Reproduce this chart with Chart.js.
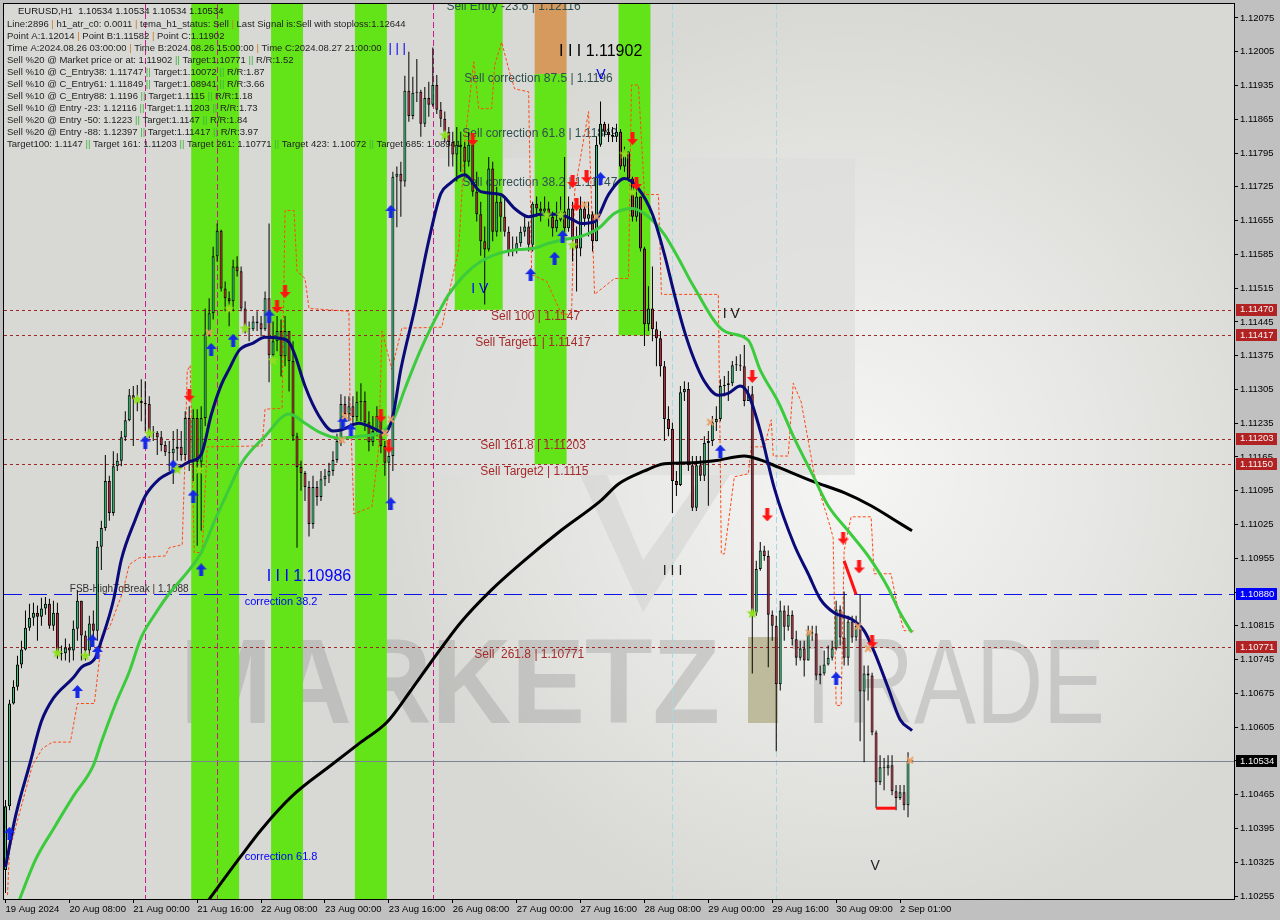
<!DOCTYPE html>
<html>
<head>
<meta charset="utf-8">
<script src="https://cdn.jsdelivr.net/npm/chart.js@4.4.1/dist/chart.umd.min.js"></script>
<style>
  html, body { margin: 0; padding: 0; background: #c0c0c0; }
  #chart { display: block; }
</style>
</head>
<body>
<canvas id="chart" width="1280" height="920"></canvas>
<script>
// EURUSD H1, 19 Aug 16:00 -> 2 Sep, one bar per hour
const firstOpen = 1.10309;

const closes = [
  1.10441, 1.10654, 1.10689, 1.10735, 1.10766, 1.10811, 1.10832, 1.10842, 1.10834, 1.10851,
  1.10861, 1.10815, 1.10842, 1.10756, 1.10758, 1.10770, 1.10764, 1.10809, 1.10867, 1.10795,
  1.10764, 1.10820, 1.10805, 1.10979, 1.11018, 1.11115, 1.11049, 1.11146, 1.11157, 1.11206,
  1.11241, 1.11293, 1.11285, 1.11281, 1.11277, 1.11275, 1.11217, 1.11215, 1.11206, 1.11190,
  1.11175, 1.11173, 1.11182, 1.11186, 1.11169, 1.11246, 1.11155, 1.11246, 1.11155, 1.11246,
  1.11421, 1.11463, 1.11581, 1.11634, 1.11514, 1.11494, 1.11488, 1.11560, 1.11550, 1.11473,
  1.11432, 1.11430, 1.11446, 1.11442, 1.11430, 1.11494, 1.11376, 1.11405, 1.11426, 1.11374,
  1.11426, 1.11364, 1.11208, 1.11144, 1.11132, 1.11103, 1.11026, 1.11103, 1.11082, 1.11119,
  1.11126, 1.11136, 1.11159, 1.11198, 1.11275, 1.11254, 1.11270, 1.11248, 1.11279, 1.11281,
  1.11237, 1.11196, 1.11219, 1.11250, 1.11188, 1.11153, 1.11167, 1.11746, 1.11752, 1.11736,
  1.11924, 1.11872, 1.11920, 1.11922, 1.11856, 1.11909, 1.11895, 1.11936, 1.11885, 1.11866,
  1.11839, 1.11818, 1.11792, 1.11812, 1.11808, 1.11777, 1.11812, 1.11715, 1.11668, 1.11612,
  1.11595, 1.11763, 1.11632, 1.11694, 1.11663, 1.11632, 1.11591, 1.11595, 1.11608, 1.11632,
  1.11643, 1.11605, 1.11690, 1.11680, 1.11674, 1.11680, 1.11663, 1.11639, 1.11657, 1.11674,
  1.11639, 1.11680, 1.11618, 1.11597, 1.11680, 1.11659, 1.11668, 1.11612, 1.11812, 1.11856,
  1.11839, 1.11833, 1.11829, 1.11839, 1.11767, 1.11798, 1.11742, 1.11663, 1.11705, 1.11597,
  1.11440, 1.11473, 1.11430, 1.11411, 1.11353, 1.11244, 1.11223, 1.11115, 1.11107, 1.11299,
  1.11306, 1.11148, 1.11060, 1.11148, 1.11126, 1.11194, 1.11198, 1.11237, 1.11244, 1.11312,
  1.11314, 1.11318, 1.11355, 1.11355, 1.11353, 1.11281, 1.11295, 1.10842, 1.10933, 1.10971,
  1.10960, 1.10838, 1.10815, 1.10694, 1.10847, 1.10813, 1.10838, 1.10787, 1.10749, 1.10768,
  1.10743, 1.10801, 1.10799, 1.10712, 1.10716, 1.10735, 1.10749, 1.10768, 1.10849, 1.10791,
  1.10749, 1.10824, 1.10791, 1.10815, 1.10679, 1.10716, 1.10712, 1.10594, 1.10491, 1.10522,
  1.10520, 1.10526, 1.10472, 1.10458, 1.10470, 1.10443, 1.10534, 1.10534
];

const highs = [
  1.10454, 1.10662, 1.10702, 1.10753, 1.10784, 1.10847, 1.10861, 1.10863, 1.10857, 1.10873,
  1.10875, 1.10871, 1.10867, 1.10863, 1.10774, 1.10789, 1.10778, 1.10826, 1.10888, 1.10867,
  1.10805, 1.10836, 1.10847, 1.10991, 1.11033, 1.11169, 1.11126, 1.11177, 1.11173, 1.11219,
  1.11260, 1.11306, 1.11312, 1.11314, 1.11326, 1.11322, 1.11291, 1.11229, 1.11219, 1.11219,
  1.11198, 1.11198, 1.11219, 1.11223, 1.11219, 1.11260, 1.11270, 1.11264, 1.11264, 1.11270,
  1.11473, 1.11494, 1.11601, 1.11649, 1.11636, 1.11529, 1.11508, 1.11574, 1.11581, 1.11560,
  1.11488, 1.11446, 1.11457, 1.11467, 1.11457, 1.11508, 1.11649, 1.11446, 1.11457, 1.11450,
  1.11457, 1.11426, 1.11405, 1.11215, 1.11157, 1.11136, 1.11115, 1.11126, 1.11115, 1.11136,
  1.11140, 1.11153, 1.11177, 1.11213, 1.11295, 1.11291, 1.11291, 1.11291, 1.11301, 1.11318,
  1.11301, 1.11260, 1.11250, 1.11270, 1.11260, 1.11198, 1.11188, 1.11756, 1.11767, 1.11777,
  1.11955, 1.12005, 1.11953, 1.11990, 1.11926, 1.11932, 1.11943, 1.12014, 1.11957, 1.11901,
  1.11881, 1.11849, 1.11839, 1.11849, 1.11839, 1.11818, 1.11839, 1.11812, 1.11756, 1.11694,
  1.11643, 1.11787, 1.11777, 1.11725, 1.11705, 1.11705, 1.11643, 1.11622, 1.11622, 1.11643,
  1.11663, 1.11653, 1.11694, 1.11705, 1.11694, 1.11705, 1.11694, 1.11674, 1.11694, 1.11705,
  1.11787, 1.11705, 1.11694, 1.11643, 1.11705, 1.11694, 1.11694, 1.11674, 1.11829, 1.11902,
  1.11860, 1.11856, 1.11849, 1.11856, 1.11845, 1.11808, 1.11798, 1.11746, 1.11725, 1.11705,
  1.11601, 1.11519, 1.11560, 1.11446, 1.11426, 1.11364, 1.11270, 1.11236, 1.11136, 1.11312,
  1.11322, 1.11320, 1.11167, 1.11167, 1.11167, 1.11208, 1.11219, 1.11250, 1.11270, 1.11326,
  1.11333, 1.11343, 1.11364, 1.11374, 1.11378, 1.11397, 1.11312, 1.11312, 1.10950, 1.10989,
  1.10981, 1.10971, 1.10847, 1.10836, 1.10867, 1.10857, 1.10857, 1.10847, 1.10805, 1.10784,
  1.10784, 1.10815, 1.10815, 1.10815, 1.10733, 1.10764, 1.10774, 1.10784, 1.10867, 1.10857,
  1.10886, 1.10836, 1.10836, 1.10836, 1.10880, 1.10733, 1.10733, 1.10718, 1.10598, 1.10547,
  1.10541, 1.10547, 1.10547, 1.10485, 1.10485, 1.10485, 1.10553, 1.10534
];

const lows = [
  1.10261, 1.10433, 1.10652, 1.10681, 1.10727, 1.10764, 1.10805, 1.10815, 1.10784, 1.10815,
  1.10838, 1.10809, 1.10805, 1.10747, 1.10743, 1.10743, 1.10739, 1.10743, 1.10784, 1.10743,
  1.10743, 1.10753, 1.10774, 1.10784, 1.10931, 1.11012, 1.11033, 1.11043, 1.11136, 1.11146,
  1.11198, 1.11239, 1.11188, 1.11260, 1.11239, 1.11219, 1.11204, 1.11198, 1.11169, 1.11177,
  1.11167, 1.11136, 1.11109, 1.11157, 1.11157, 1.11157, 1.11136, 1.11115, 1.10981, 1.11012,
  1.11229, 1.11415, 1.11450, 1.11570, 1.11508, 1.11467, 1.11436, 1.11467, 1.11539, 1.11467,
  1.11421, 1.11405, 1.11426, 1.11426, 1.11415, 1.11426, 1.11320, 1.11364, 1.11384, 1.11332,
  1.11353, 1.11301, 1.11198, 1.10977, 1.11095, 1.11074, 1.11000, 1.11016, 1.11064, 1.11074,
  1.11105, 1.11111, 1.11126, 1.11153, 1.11188, 1.11239, 1.11239, 1.11229, 1.11239, 1.11239,
  1.11219, 1.11177, 1.11188, 1.11208, 1.11173, 1.11126, 1.11055, 1.11136, 1.11641, 1.11663,
  1.11725, 1.11860, 1.11865, 1.11901, 1.11829, 1.11849, 1.11870, 1.11891, 1.11876, 1.11849,
  1.11818, 1.11767, 1.11767, 1.11736, 1.11756, 1.11746, 1.11767, 1.11705, 1.11653, 1.11582,
  1.11481, 1.11591, 1.11612, 1.11622, 1.11632, 1.11622, 1.11581, 1.11581, 1.11587, 1.11601,
  1.11622, 1.11591, 1.11591, 1.11663, 1.11653, 1.11663, 1.11643, 1.11622, 1.11632, 1.11653,
  1.11632, 1.11632, 1.11570, 1.11508, 1.11581, 1.11643, 1.11622, 1.11591, 1.11612, 1.11808,
  1.11829, 1.11818, 1.11818, 1.11818, 1.11761, 1.11756, 1.11736, 1.11653, 1.11653, 1.11591,
  1.11395, 1.11426, 1.11405, 1.11353, 1.11332, 1.11198, 1.11208, 1.11049, 1.11084, 1.11105,
  1.11281, 1.11136, 1.11053, 1.11053, 1.11115, 1.11115, 1.11064, 1.11188, 1.11219, 1.11239,
  1.11291, 1.11281, 1.11312, 1.11343, 1.11343, 1.11270, 1.11281, 1.10716, 1.10836, 1.10929,
  1.10950, 1.10729, 1.10784, 1.10555, 1.10681, 1.10784, 1.10805, 1.10774, 1.10733, 1.10743,
  1.10710, 1.10743, 1.10784, 1.10702, 1.10694, 1.10712, 1.10733, 1.10743, 1.10764, 1.10774,
  1.10733, 1.10733, 1.10780, 1.10784, 1.10576, 1.10532, 1.10660, 1.10588, 1.10437, 1.10485,
  1.10474, 1.10505, 1.10464, 1.10433, 1.10454, 1.10433, 1.10418, 1.10534
];

// moving averages: [bar, price]
const navyMA = [
  [0,1.10315],[2.5,1.10420],[6,1.10526],[9,1.10617],[12,1.10665],[17,1.10708],[19,1.10729],
  [22.5,1.10749],[24,1.10784],[27,1.10867],[29,1.10952],[32.5,1.11035],[35,1.11084],[38.5,1.11119],
  [42,1.11136],[46,1.11155],[49,1.11170],[51.5,1.11252],[54,1.11314],[56,1.11347],[58.5,1.11386],
  [62,1.11401],[65,1.11413],[68.5,1.11411],[71,1.11403],[72.5,1.11376],[75,1.11312],[78.5,1.11250],
  [82,1.11219],[84,1.11221],[88.5,1.11235],[92,1.11225],[95,1.11215],[97,1.11250],[99,1.11347],
  [102.5,1.11473],[106,1.11614],[109,1.11711],[111,1.11730],[115,1.11750],[119,1.11715],[124,1.11709],
  [127.5,1.11680],[131,1.11663],[134,1.11668],[138.5,1.11668],[142,1.11657],[144,1.11649],
  [147.5,1.11653],[151,1.11709],[155,1.11742],[158.5,1.11721],[162,1.11668],[165,1.11585],
  [167.5,1.11502],[170,1.11426],[172.5,1.11366],[175,1.11322],[178.5,1.11293],[181,1.11297],
  [184,1.11312],[186,1.11295],[189,1.11219],[192.5,1.11101],[197.5,1.10983],[201,1.10923],
  [204,1.10871],[207.5,1.10842],[212,1.10828],[215,1.10805],[217.5,1.10762],[221,1.10687],
  [224,1.10621],[227,1.10598]
];
const greenMA = [
  [3,1.10237],[7.5,1.10330],[12,1.10394],[17,1.10462],[22,1.10526],[24,1.10574],[27.5,1.10652],
  [31,1.10720],[34,1.10791],[37.5,1.10840],[41,1.10882],[46,1.10931],[49,1.10967],[52.5,1.11035],
  [56,1.11099],[59,1.11151],[65,1.11208],[71,1.11254],[75,1.11235],[79,1.11215],[83.5,1.11204],
  [88.5,1.11208],[93.5,1.11215],[97,1.11241],[100,1.11306],[104,1.11388],[109,1.11473],
  [111,1.11502],[115,1.11543],[119,1.11570],[123.5,1.11587],[128.5,1.11595],[132,1.11597],
  [136,1.11608],[140,1.11616],[144,1.11622],[148.5,1.11639],[152.5,1.11670],[157,1.11680],
  [161,1.11663],[165,1.11626],[168.5,1.11577],[172,1.11523],[180,1.11426],[186,1.11407],
  [189,1.11345],[193.5,1.11279],[197.5,1.11204],[202,1.11130],[206,1.11064],[211,1.11012],
  [216,1.10960],[221,1.10894],[224,1.10842],[227,1.10801]
];
const blackMA = [
  [50,1.10237],[59,1.10338],[64,1.10392],[72,1.10464],[81.5,1.10526],[89,1.10574],[95.5,1.10615],
  [101.5,1.10681],[106.5,1.10739],[114,1.10822],[121.5,1.10888],[129,1.10944],[139,1.11012],
  [149,1.11074],[153.5,1.11109],[160,1.11136],[165,1.11151],[172,1.11153],[177.5,1.11157],
  [185,1.11167],[189,1.11159],[193.5,1.11144],[202,1.11115],[210,1.11091],[216.75,1.11064],
  [222.5,1.11035],[227,1.11012]
];
// thin dashed trailing stop
const stopLine = [
  [0.5,1.10257],[1,1.10350],[4.25,1.10450],[6.75,1.10526],[9.25,1.10561],[11.75,1.10574],
  [16.25,1.10574],[18,1.10654],[22.25,1.10654],[24.25,1.10799],[26,1.10811],[29.25,1.10882],
  [31,1.10942],[33.5,1.10956],[40,1.10960],[41,1.10977],[44.25,1.10983],[45,1.11177],
  [45.5,1.11343],[46.25,1.11355],[47.25,1.10967],[49.25,1.10967],[50.5,1.11186],[64.25,1.11188],
  [65,1.11264],[69.25,1.11266],[70,1.11676],[72.25,1.11676],[73,1.11550],[75,1.11535],
  [76,1.11473],[86,1.11467],[86.25,1.11285],[87.25,1.11047],[91.75,1.11062],[93.5,1.11188],
  [94.25,1.11426],[96.75,1.11347],[99.25,1.11432],[109.25,1.11434],[111,1.11502],[113.5,1.11597],
  [115,1.11818],[117.25,1.11984],[118.5,1.11887],[121.75,1.11887],[122.5,1.11978],[124.25,1.12025],
  [126,1.11969],[127.5,1.11928],[131,1.11922],[131.75,1.11543],[135.5,1.11529],[139.25,1.11461],
  [141.75,1.11461],[142.5,1.11715],[146,1.11881],[147.5,1.11502],[152.5,1.11535],[156,1.11535],
  [156.75,1.11936],[158.5,1.11936],[160,1.11709],[163.5,1.11709],[164.25,1.11502],[178.5,1.11502],
  [179.25,1.10964],[180,1.10964],[182.5,1.11124],[186,1.11130],[186.75,1.11186],[190,1.11186],
  [191.75,1.11242],[192.25,1.11167],[196,1.11167],[197.25,1.11318],[199.25,1.11279],[202.5,1.11130],
  [206,1.11035],[207.25,1.10998],[208,1.10650],[209.25,1.10650],[210,1.10971],[211.75,1.11041],
  [216.75,1.11041],[217.5,1.10923],[221.75,1.10923],[223.5,1.10849],[225,1.10805],[227.5,1.10805]
];

// signal markers: [bar, price]
const buyArrows = [
  [1,1.10385],[18,1.10679],[21.75,1.10784],[23,1.10760],[35,1.11196],[42,1.11146],[47,1.11084],
  [49,1.10931],[51.5,1.11388],[57,1.11407],[66,1.11457],[84.5,1.11237],[86.5,1.11221],
  [96.5,1.11674],[96.5,1.11068],[131.5,1.11543],[137.5,1.11577],[139.5,1.11622],[149,1.11742],
  [179,1.11177],[208,1.10706]
];
const sellArrows = [
  [46,1.11293],[70,1.11508],[68,1.11477],[94,1.11250],[96,1.11186],[117,1.11823],[142,1.11736],
  [145.5,1.11746],[143,1.11688],[157,1.11825],[158,1.11732],[187,1.11332],[190.75,1.11045],
  [209.75,1.10997],[213.75,1.10937],[217,1.10782]
];
const stars = [
  [33,1.11285],[36,1.11215],[13,1.10760],[20,1.10754],[43,1.11140],[48.5,1.11140],[56,1.11473],
  [60,1.11432],[67,1.11366],[110,1.11833],[135.5,1.11668],[139,1.11668],[142,1.11605],
  [155,1.11794],[157,1.11715],[187,1.10842]
];
const crossMarks = [
  [51,1.11423],[85,1.11250],[84.25,1.11200],[96.5,1.11243],[95,1.11215],[145,1.11688],
  [148,1.11663],[176.5,1.11237],[201.25,1.10801],[213.5,1.10814],[216,1.10768],[226.5,1.10536]
];
const redStroke1 = [[210,1.10950],[213,1.10880]];
const redStroke2 = [[218,1.10437],[223,1.10437]];

// levels
const redLevels = [1.11470, 1.11417, 1.11203, 1.11150, 1.10771];
const blueLevel = 1.10880;
const lastPrice = 1.10534;

// zones: [first bar, last bar, top price or null, bottom price or null]
const greenZones = [
  [47, 58, null, null], [67, 74, null, null], [88, 95, null, null],
  [113, 124, null, 1.11470], [133, 140, 1.11959, 1.11150], [154, 161, null, 1.11417]
];
const orangeZone = [133, 140, null, 1.11959];
const magentaBars = [35, 53, 107];
const cyanBars = [167, 193];

const timeTickIdx = [0, 16, 32, 48, 64, 80, 96, 112, 128, 144, 160, 176, 192, 208, 224];
const timeLabels = ['19 Aug 2024', '20 Aug 08:00', '21 Aug 00:00', '21 Aug 16:00', '22 Aug 08:00',
  '23 Aug 00:00', '23 Aug 16:00', '26 Aug 08:00', '27 Aug 00:00', '27 Aug 16:00', '28 Aug 08:00',
  '29 Aug 00:00', '29 Aug 16:00', '30 Aug 09:00', '2 Sep 01:00'];
const priceTicks = [1.12075, 1.12005, 1.11935, 1.11865, 1.11795, 1.11725, 1.11655, 1.11585, 1.11515,
  1.11445, 1.11375, 1.11305, 1.11235, 1.11165, 1.11095, 1.11025, 1.10955, 1.10885, 1.10815, 1.10745,
  1.10675, 1.10605, 1.10535, 1.10465, 1.10395, 1.10325, 1.10255];

const infoHeader = 'EURUSD,H1  1.10534 1.10534 1.10534 1.10534';
const infoLines = [
  'Line:2896 | h1_atr_c0: 0.0011 | tema_h1_status: Sell | Last Signal is:Sell with stoploss:1.12644',
  'Point A:1.12014 | Point B:1.11582 | Point C:1.11902',
  'Time A:2024.08.26 03:00:00 | Time B:2024.08.26 15:00:00 | Time C:2024.08.27 21:00:00',
  'Sell %20 @ Market price or at: 1.11902 || Target:1.10771 || R/R:1.52',
  'Sell %10 @ C_Entry38: 1.11747 || Target:1.10072 || R/R:1.87',
  'Sell %10 @ C_Entry61: 1.11849 || Target:1.08941 || R/R:3.66',
  'Sell %10 @ C_Entry88: 1.1196 || Target:1.1115 || R/R:1.18',
  'Sell %10 @ Entry -23: 1.12116 || Target:1.11203 || R/R:1.73',
  'Sell %20 @ Entry -50: 1.1223 || Target:1.1147 || R/R:1.84',
  'Sell %20 @ Entry -88: 1.12397 || Target:1.11417 || R/R:3.97',
  'Target100: 1.1147 || Target 161: 1.11203 || Target 261: 1.10771 || Target 423: 1.10072 || Target 685: 1.08941'
];

const FONT = '"Liberation Sans", Arial, sans-serif';
const BULL = '#2ecc7a';
const BEAR = '#c8283c';

const opens = closes.map((c, i) => i === 0 ? firstOpen : closes[i - 1]);
const wickData = closes.map((c, i) => ({ x: i, y: [lows[i], highs[i]] }));
const bodyData = closes.map((c, i) => ({ x: i, y: [opens[i], c] }));
const bodyColors = closes.map((c, i) => c >= opens[i] ? BULL : BEAR);
const pts = arr => arr.map(p => ({ x: p[0], y: p[1] }));

// marker images
function arrowImage(color, up) {
  const c = document.createElement('canvas');
  c.width = 11; c.height = 13;
  const g = c.getContext('2d');
  g.fillStyle = color;
  g.beginPath();
  const shape = [[5.5, 0], [11, 6], [7.5, 6], [7.5, 13], [3.5, 13], [3.5, 6], [0, 6]];
  shape.forEach(([x, y], k) => {
    const yy = up ? y : 13 - y;
    if (k === 0) g.moveTo(x, yy); else g.lineTo(x, yy);
  });
  g.closePath();
  g.fill();
  return c;
}
function starImage(color) {
  const c = document.createElement('canvas');
  c.width = 12; c.height = 12;
  const g = c.getContext('2d');
  g.fillStyle = color;
  g.beginPath();
  for (let k = 0; k < 10; k++) {
    const r = k % 2 === 0 ? 6 : 2.5;
    const a = -Math.PI / 2 + k * Math.PI / 5;
    const x = 6 + r * Math.cos(a), y = 6.5 + r * Math.sin(a);
    if (k === 0) g.moveTo(x, y); else g.lineTo(x, y);
  }
  g.closePath();
  g.fill();
  return c;
}
function crossImage(color) {
  const c = document.createElement('canvas');
  c.width = 8; c.height = 8;
  const g = c.getContext('2d');
  g.strokeStyle = color;
  g.lineWidth = 2;
  g.beginPath();
  g.moveTo(1, 1); g.lineTo(7, 7); g.moveTo(7, 1); g.lineTo(1, 7);
  g.stroke();
  return c;
}
const upImg = arrowImage('#1428e6', true);
const downImg = arrowImage('#ff1414', false);
const starImg = starImage('#8ee01e');
const crossImg = crossImage('#e8a064');

const X_MIN = -0.375, X_MAX = 307.625;
const Y_MIN = 1.102488, Y_MAX = 1.1210396;

const chartDecor = {
  id: 'chartDecor',
  beforeDraw(chart) {
    const { ctx, chartArea: a } = chart;
    ctx.save();
    ctx.fillStyle = '#c0c0c0';
    ctx.fillRect(0, 0, chart.width, chart.height);
    ctx.fillStyle = '#d8d8d4';
    ctx.fillRect(a.left, a.top, a.right - a.left, a.bottom - a.top);
    ctx.restore();
  },
  beforeDatasetsDraw(chart) {
    const { ctx, chartArea: a, scales: { x, y } } = chart;
    ctx.save();
    ctx.beginPath();
    ctx.rect(a.left, a.top, a.right - a.left, a.bottom - a.top);
    ctx.clip();

    // faint logo glow behind everything
    const glow = ctx.createRadialGradient(850, 470, 10, 850, 470, 470);
    glow.addColorStop(0, 'rgba(255,255,255,0.75)');
    glow.addColorStop(0.5, 'rgba(255,255,255,0.4)');
    glow.addColorStop(1, 'rgba(255,255,255,0)');
    ctx.fillStyle = glow;
    ctx.fillRect(a.left, a.top, a.right - a.left, a.bottom - a.top);
    ctx.fillStyle = 'rgba(222,222,220,0.75)';
    ctx.fillRect(435, 158, 420, 317);
    ctx.fillStyle = 'rgba(205,205,205,0.45)';
    ctx.beginPath();
    ctx.moveTo(580, 475); ctx.lineTo(607, 475); ctx.lineTo(643, 560);
    ctx.lineTo(703, 475); ctx.lineTo(730, 475); ctx.lineTo(643, 612);
    ctx.closePath(); ctx.fill();

    // watermark
    ctx.fillStyle = 'rgba(140,140,140,0.32)';
    ctx.font = 'bold 120px ' + FONT;
    ctx.textBaseline = 'alphabetic';
    let w = ctx.measureText('MARKETZ').width;
    ctx.save(); ctx.translate(180, 723); ctx.scale(540 / w, 1); ctx.fillText('MARKETZ', 0, 0); ctx.restore();
    ctx.font = '120px ' + FONT;
    w = ctx.measureText('TRADE').width;
    ctx.save(); ctx.translate(790, 723); ctx.scale(315 / w, 1); ctx.fillText('TRADE', 0, 0); ctx.restore();
    ctx.fillStyle = '#bdbb9c';
    ctx.fillRect(748, 637, 30, 86);

    // zones
    const zone = (z, color) => {
      const x0 = x.getPixelForValue(z[0] - 0.5), x1 = x.getPixelForValue(z[1] + 0.5);
      const y0 = z[2] === null ? a.top : y.getPixelForValue(z[2]);
      const y1 = z[3] === null ? a.bottom : y.getPixelForValue(z[3]);
      ctx.fillStyle = color;
      ctx.fillRect(x0, y0, x1 - x0, y1 - y0);
    };
    greenZones.forEach(z => zone(z, '#63e419'));
    zone(orangeZone, '#d69a5e');

    // vertical separators
    ctx.lineWidth = 1;
    ctx.setLineDash([6, 3]);
    const vline = (v, color) => {
      const px = Math.round(x.getPixelForValue(v)) + 0.5;
      ctx.strokeStyle = color;
      ctx.beginPath(); ctx.moveTo(px, a.top); ctx.lineTo(px, a.bottom); ctx.stroke();
    };
    magentaBars.forEach(v => vline(v, '#c81e8c'));
    cyanBars.forEach(v => vline(v, '#a8d8e2'));

    // horizontal levels
    const hline = (p, color, dash) => {
      const py = Math.round(y.getPixelForValue(p)) + 0.5;
      ctx.setLineDash(dash);
      ctx.strokeStyle = color;
      ctx.beginPath(); ctx.moveTo(a.left, py); ctx.lineTo(a.right, py); ctx.stroke();
    };
    redLevels.forEach(p => hline(p, '#a02828', [3, 3]));
    hline(blueLevel, '#0a14e6', [18, 7]);
    hline(lastPrice, '#7c8490', []);
    ctx.setLineDash([]);

    // info block
    ctx.font = '9.5px ' + FONT;
    ctx.textBaseline = 'middle';
    ctx.fillStyle = '#141414';
    ctx.fillText(infoHeader, 18, 11);
    infoLines.forEach((line, k) => {
      let cx = 7;
      const cy = 24 + 12 * k;
      line.split(/(\|+)/).forEach(part => {
        if (part.startsWith('|')) ctx.fillStyle = part.length > 1 ? '#3cb43c' : '#d2781e';
        else ctx.fillStyle = '#1e1e1e';
        ctx.fillText(part, cx, cy);
        cx += ctx.measureText(part).width;
      });
    });

    // level and swing annotations
    const notes = [
      ['Sell Entry -23.6 | 1.12116', 110.4, 1.12098, '#2f4f4f', '12px'],
      ['Sell correction 87.5 | 1.1196', 114.9, 1.11949, '#2f4f4f', '12px'],
      ['Sell correction 61.8 | 1.11849', 114.4, 1.11835, '#2f4f4f', '12px'],
      ['Sell correction 38.2 | 1.11747', 114.4, 1.11734, '#2f4f4f', '12px'],
      ['I I I 1.11902', 138.6, 1.12005, '#000000', '16px'],
      ['Sell 100 | 1.1147', 121.6, 1.11455, '#a52a2a', '12px'],
      ['Sell Target1 | 1.11417', 117.6, 1.11401, '#a52a2a', '12px'],
      ['Sell 161.8 | 1.11203', 118.9, 1.11188, '#a52a2a', '12px'],
      ['Sell Target2 | 1.1115', 118.9, 1.11134, '#a52a2a', '12px'],
      ['Sell  261.8 | 1.10771', 117.4, 1.10756, '#a52a2a', '12px'],
      ['FSB-HighToBreak | 1.1088', 16.1, 1.10890, '#303030', '10px'],
      ['I I I 1.10986', 65.4, 1.10917, '#0000ff', '16px'],
      ['correction 38.2', 59.9, 1.10865, '#0000ff', '11px'],
      ['correction 61.8', 59.9, 1.10336, '#0000ff', '11px'],
      ['| | |', 95.9, 1.12011, '#0000ff', '13px'],
      ['I V', 116.6, 1.11512, '#0000ff', '14px'],
      ['V', 147.9, 1.11957, '#0000ff', '14px'],
      ['I V', 179.6, 1.11461, '#202020', '14px'],
      ['I I I', 164.6, 1.10929, '#202020', '14px'],
      ['V', 216.6, 1.10317, '#202020', '14px']
    ];
    notes.forEach(([t, i, p, color, size]) => {
      ctx.font = size + ' ' + FONT;
      ctx.fillStyle = color;
      ctx.fillText(t, x.getPixelForValue(i), y.getPixelForValue(p));
    });
    ctx.restore();
  },
  afterDraw(chart) {
    const { ctx, chartArea: a, scales: { y } } = chart;
    ctx.save();
    ctx.strokeStyle = '#000';
    ctx.lineWidth = 1;
    ctx.strokeRect(a.left - 0.5, a.top - 0.5, a.right - a.left + 1, a.bottom - a.top + 1);
    ctx.font = '9.5px ' + FONT;
    ctx.textBaseline = 'middle';
    const tag = (p, bg) => {
      const py = y.getPixelForValue(p);
      ctx.fillStyle = bg;
      ctx.fillRect(a.right + 2, Math.round(py) - 6, 41, 12);
      ctx.fillStyle = '#f4f4f4';
      ctx.fillText(p.toFixed(5), a.right + 6, py);
    };
    redLevels.forEach(p => tag(p, '#b22222'));
    tag(blueLevel, '#0000ff');
    tag(lastPrice, '#000000');
    ctx.restore();
  }
};

// markers use tiny radii so they do not push the plot area inwards
const marker = (data, img) => ({
  type: 'line', data: pts(data), showLine: false, pointStyle: img,
  pointRadius: 0.5, pointBorderWidth: 0, order: 0
});

new Chart(document.getElementById('chart'), {
  type: 'bar',
  data: {
    datasets: [
      { type: 'line', data: pts(stopLine), borderColor: '#ff4a14', borderWidth: 1, borderDash: [3, 2],
        pointRadius: 0, pointBorderWidth: 0, tension: 0, order: 7 },
      { type: 'bar', data: wickData, backgroundColor: '#000', barThickness: 1, grouped: false,
        minBarLength: 1, inflateAmount: 0, order: 6 },
      { type: 'bar', data: bodyData, backgroundColor: bodyColors, borderColor: '#000', borderWidth: 1,
        borderSkipped: false, barThickness: 3, grouped: false, minBarLength: 1, inflateAmount: 0, order: 5 },
      { type: 'line', data: pts(blackMA), borderColor: '#000', borderWidth: 3, pointRadius: 0,
        pointBorderWidth: 0, cubicInterpolationMode: 'monotone', order: 4 },
      { type: 'line', data: pts(greenMA), borderColor: '#3ccb3c', borderWidth: 3, pointRadius: 0,
        pointBorderWidth: 0, cubicInterpolationMode: 'monotone', order: 3 },
      { type: 'line', data: pts(navyMA), borderColor: '#0a0a78', borderWidth: 3, pointRadius: 0,
        pointBorderWidth: 0, cubicInterpolationMode: 'monotone', order: 2 },
      { type: 'line', data: pts(redStroke1), borderColor: '#ff1010', borderWidth: 3, pointRadius: 0,
        pointBorderWidth: 0, order: 1 },
      { type: 'line', data: pts(redStroke2), borderColor: '#ff1010', borderWidth: 3, pointRadius: 0,
        pointBorderWidth: 0, order: 1 },
      marker(crossMarks, crossImg),
      marker(stars, starImg),
      marker(buyArrows, upImg),
      marker(sellArrows, downImg)
    ]
  },
  options: {
    responsive: false,
    animation: false,
    devicePixelRatio: 1,
    events: [],
    layout: { padding: { left: 2, top: 2, right: 0, bottom: 0 } },
    plugins: { legend: { display: false }, tooltip: { enabled: false } },
    scales: {
      x: {
        type: 'linear', position: 'bottom', min: X_MIN, max: X_MAX, offset: false,
        afterBuildTicks: s => { s.ticks = timeTickIdx.map(v => ({ value: v })); },
        afterFit: s => { s.height = 21; s.paddingLeft = 0; s.paddingRight = 0; },
        grid: { offset: false, drawOnChartArea: false, drawTicks: true, tickLength: 4, color: '#000' },
        border: { display: true, color: '#000' },
        ticks: {
          autoSkip: false, maxRotation: 0, align: 'start', padding: 1, color: '#000',
          font: { family: FONT, size: 9.5 },
          callback: (v, idx) => timeLabels[idx]
        }
      },
      y: {
        type: 'linear', position: 'right', min: Y_MIN, max: Y_MAX,
        afterBuildTicks: s => { s.ticks = priceTicks.map(v => ({ value: v })); },
        afterFit: s => { s.width = 46; s.paddingTop = 0; s.paddingBottom = 0; },
        grid: { drawOnChartArea: false, drawTicks: true, tickLength: 4, color: '#000' },
        border: { display: true, color: '#000' },
        ticks: {
          autoSkip: false, padding: 2, color: '#000', crossAlign: 'near',
          font: { family: FONT, size: 9.5 },
          callback: v => v.toFixed(5)
        }
      }
    }
  },
  plugins: [chartDecor]
});
</script>
</body>
</html>
